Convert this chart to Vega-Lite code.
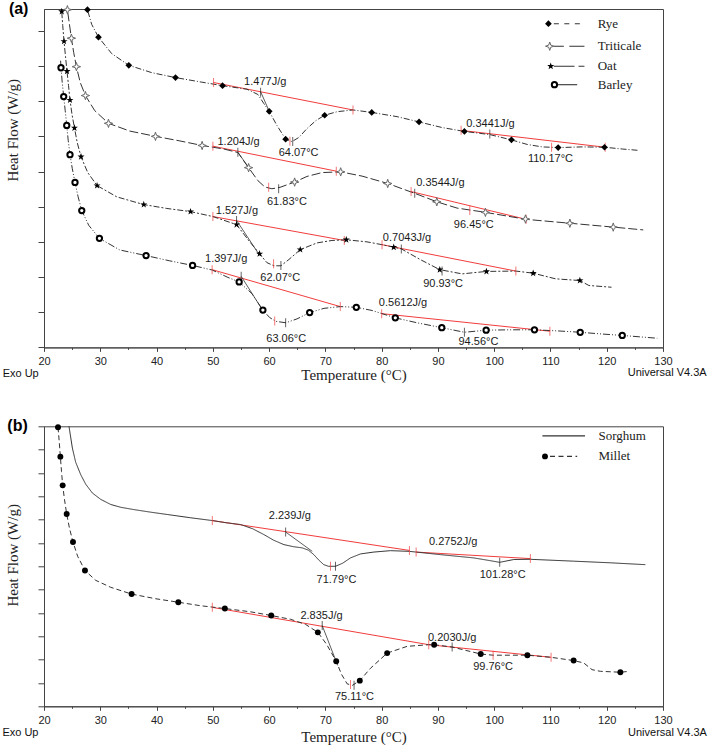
{
"$schema": "https://vega.github.io/schema/vega-lite/v6.json",
"padding": {"left": 1, "top": 0, "right": 0, "bottom": 0},
"bounds": "flush",
"spacing": 78.3,
"resolve": {"scale": {"strokeDash": "independent", "color": "independent"}},
"config": {
  "view": {"stroke": "#444", "strokeWidth": 1},
  "axis": {"domainColor": "#444", "tickColor": "#444", "labelFont": "Liberation Sans", "labelFontSize": 11, "labelColor": "#222", "titleFont": "Liberation Serif", "titleFontSize": 15, "titleFontWeight": "normal", "titleColor": "#222", "grid": false},
  "text": {"font": "Liberation Sans", "fontSize": 11, "color": "#1a1a1a"}
},
"datasets": {
  "curvesA": [
    {"sample":"Rye","temp":27.33,"hf":9.86},{"sample":"Rye","temp":27.72,"hf":9.60},{"sample":"Rye","temp":28.48,"hf":9.18},{"sample":"Rye","temp":29.68,"hf":8.82},{"sample":"Rye","temp":32.04,"hf":8.35},{"sample":"Rye","temp":35.07,"hf":8.02},{"sample":"Rye","temp":39.16,"hf":7.81},{"sample":"Rye","temp":43.37,"hf":7.67},{"sample":"Rye","temp":48.05,"hf":7.54},{"sample":"Rye","temp":51.73,"hf":7.44},{"sample":"Rye","temp":56.06,"hf":7.34},{"sample":"Rye","temp":58.01,"hf":7.19},{"sample":"Rye","temp":59.08,"hf":6.93},{"sample":"Rye","temp":60.02,"hf":6.71},{"sample":"Rye","temp":61.39,"hf":6.31},{"sample":"Rye","temp":62.94,"hf":5.92},{"sample":"Rye","temp":64.06,"hf":5.85},{"sample":"Rye","temp":65.30,"hf":5.97},{"sample":"Rye","temp":66.73,"hf":6.22},{"sample":"Rye","temp":68.33,"hf":6.45},{"sample":"Rye","temp":69.88,"hf":6.60},{"sample":"Rye","temp":72.07,"hf":6.70},{"sample":"Rye","temp":74.91,"hf":6.75},{"sample":"Rye","temp":78.24,"hf":6.68},{"sample":"Rye","temp":82.74,"hf":6.56},{"sample":"Rye","temp":86.65,"hf":6.41},{"sample":"Rye","temp":90.74,"hf":6.25},{"sample":"Rye","temp":94.71,"hf":6.14},{"sample":"Rye","temp":99.22,"hf":6.05},{"sample":"Rye","temp":103.07,"hf":5.90},{"sample":"Rye","temp":105.86,"hf":5.77},{"sample":"Rye","temp":108.53,"hf":5.70},{"sample":"Rye","temp":111.37,"hf":5.68},{"sample":"Rye","temp":115.64,"hf":5.70},{"sample":"Rye","temp":119.61,"hf":5.69},{"sample":"Rye","temp":122.76,"hf":5.64},{"sample":"Rye","temp":125.73,"hf":5.60},
    {"sample":"Triticale","temp":23.86,"hf":9.86},{"sample":"Triticale","temp":24.16,"hf":9.60},{"sample":"Triticale","temp":24.48,"hf":9.23},{"sample":"Triticale","temp":24.87,"hf":8.79},{"sample":"Triticale","temp":25.28,"hf":8.38},{"sample":"Triticale","temp":25.76,"hf":7.98},{"sample":"Triticale","temp":26.44,"hf":7.53},{"sample":"Triticale","temp":27.36,"hf":7.16},{"sample":"Triticale","temp":29.02,"hf":6.73},{"sample":"Triticale","temp":31.46,"hf":6.37},{"sample":"Triticale","temp":35.24,"hf":6.15},{"sample":"Triticale","temp":39.81,"hf":6.00},{"sample":"Triticale","temp":44.14,"hf":5.87},{"sample":"Triticale","temp":48.10,"hf":5.74},{"sample":"Triticale","temp":51.96,"hf":5.64},{"sample":"Triticale","temp":54.45,"hf":5.54},{"sample":"Triticale","temp":56.36,"hf":5.11},{"sample":"Triticale","temp":58.01,"hf":4.74},{"sample":"Triticale","temp":59.26,"hf":4.56},{"sample":"Triticale","temp":60.50,"hf":4.51},{"sample":"Triticale","temp":61.93,"hf":4.55},{"sample":"Triticale","temp":64.54,"hf":4.70},{"sample":"Triticale","temp":66.73,"hf":4.86},{"sample":"Triticale","temp":69.40,"hf":4.97},{"sample":"Triticale","temp":72.72,"hf":4.99},{"sample":"Triticale","temp":76.51,"hf":4.87},{"sample":"Triticale","temp":81.08,"hf":4.66},{"sample":"Triticale","temp":85.88,"hf":4.38},{"sample":"Triticale","temp":89.80,"hf":4.14},{"sample":"Triticale","temp":93.41,"hf":3.96},{"sample":"Triticale","temp":98.44,"hf":3.84},{"sample":"Triticale","temp":105.68,"hf":3.64},{"sample":"Triticale","temp":113.45,"hf":3.53},{"sample":"Triticale","temp":121.16,"hf":3.42},{"sample":"Triticale","temp":126.49,"hf":3.34},
    {"sample":"Oat","temp":22.61,"hf":9.86},{"sample":"Oat","temp":23.15,"hf":9.55},{"sample":"Oat","temp":23.33,"hf":9.15},{"sample":"Oat","temp":23.56,"hf":8.70},{"sample":"Oat","temp":23.82,"hf":8.27},{"sample":"Oat","temp":24.09,"hf":7.85},{"sample":"Oat","temp":24.36,"hf":7.44},{"sample":"Oat","temp":24.62,"hf":7.03},{"sample":"Oat","temp":24.98,"hf":6.62},{"sample":"Oat","temp":25.41,"hf":6.24},{"sample":"Oat","temp":25.91,"hf":5.82},{"sample":"Oat","temp":26.58,"hf":5.42},{"sample":"Oat","temp":27.77,"hf":4.97},{"sample":"Oat","temp":29.43,"hf":4.60},{"sample":"Oat","temp":32.93,"hf":4.28},{"sample":"Oat","temp":37.73,"hf":4.06},{"sample":"Oat","temp":41.83,"hf":3.95},{"sample":"Oat","temp":46.04,"hf":3.86},{"sample":"Oat","temp":50.01,"hf":3.72},{"sample":"Oat","temp":54.22,"hf":3.49},{"sample":"Oat","temp":56.23,"hf":3.07},{"sample":"Oat","temp":58.31,"hf":2.66},{"sample":"Oat","temp":59.61,"hf":2.41},{"sample":"Oat","temp":60.86,"hf":2.32},{"sample":"Oat","temp":62.10,"hf":2.32},{"sample":"Oat","temp":63.53,"hf":2.50},{"sample":"Oat","temp":65.54,"hf":2.78},{"sample":"Oat","temp":68.51,"hf":2.97},{"sample":"Oat","temp":71.17,"hf":3.04},{"sample":"Oat","temp":73.72,"hf":3.06},{"sample":"Oat","temp":77.40,"hf":3.00},{"sample":"Oat","temp":80.07,"hf":2.92},{"sample":"Oat","temp":82.15,"hf":2.85},{"sample":"Oat","temp":83.50,"hf":2.80},{"sample":"Oat","temp":86.83,"hf":2.50},{"sample":"Oat","temp":90.33,"hf":2.21},{"sample":"Oat","temp":94.30,"hf":2.09},{"sample":"Oat","temp":98.62,"hf":2.16},{"sample":"Oat","temp":103.85,"hf":2.17},{"sample":"Oat","temp":106.93,"hf":2.11},{"sample":"Oat","temp":110.89,"hf":1.95},{"sample":"Oat","temp":115.23,"hf":1.90},{"sample":"Oat","temp":116.83,"hf":1.76},{"sample":"Oat","temp":120.85,"hf":1.71},
    {"sample":"Barley","temp":22.95,"hf":8.15},{"sample":"Barley","temp":23.02,"hf":7.95},{"sample":"Barley","temp":23.24,"hf":7.53},{"sample":"Barley","temp":23.50,"hf":7.13},{"sample":"Barley","temp":23.77,"hf":6.73},{"sample":"Barley","temp":24.04,"hf":6.31},{"sample":"Barley","temp":24.30,"hf":5.89},{"sample":"Barley","temp":24.62,"hf":5.48},{"sample":"Barley","temp":25.02,"hf":5.09},{"sample":"Barley","temp":25.51,"hf":4.69},{"sample":"Barley","temp":26.05,"hf":4.29},{"sample":"Barley","temp":26.71,"hf":3.89},{"sample":"Barley","temp":27.95,"hf":3.47},{"sample":"Barley","temp":29.85,"hf":3.10},{"sample":"Barley","temp":33.46,"hf":2.77},{"sample":"Barley","temp":38.14,"hf":2.61},{"sample":"Barley","temp":42.36,"hf":2.46},{"sample":"Barley","temp":46.40,"hf":2.33},{"sample":"Barley","temp":49.88,"hf":2.20},{"sample":"Barley","temp":52.68,"hf":1.99},{"sample":"Barley","temp":54.68,"hf":1.86},{"sample":"Barley","temp":56.94,"hf":1.53},{"sample":"Barley","temp":58.90,"hf":1.06},{"sample":"Barley","temp":60.09,"hf":0.85},{"sample":"Barley","temp":61.21,"hf":0.74},{"sample":"Barley","temp":62.99,"hf":0.70},{"sample":"Barley","temp":64.95,"hf":0.81},{"sample":"Barley","temp":67.21,"hf":0.99},{"sample":"Barley","temp":69.75,"hf":1.11},{"sample":"Barley","temp":72.65,"hf":1.16},{"sample":"Barley","temp":75.50,"hf":1.14},{"sample":"Barley","temp":78.29,"hf":1.05},{"sample":"Barley","temp":82.43,"hf":0.84},{"sample":"Barley","temp":86.29,"hf":0.70},{"sample":"Barley","temp":90.69,"hf":0.56},{"sample":"Barley","temp":94.71,"hf":0.43},{"sample":"Barley","temp":98.57,"hf":0.49},{"sample":"Barley","temp":102.84,"hf":0.50},{"sample":"Barley","temp":107.16,"hf":0.50},{"sample":"Barley","temp":111.20,"hf":0.47},{"sample":"Barley","temp":115.29,"hf":0.43},{"sample":"Barley","temp":119.20,"hf":0.38},{"sample":"Barley","temp":122.76,"hf":0.34},{"sample":"Barley","temp":128.98,"hf":0.26}
  ],
  "markersA": [
    {"sample":"Rye","temp":27.72,"hf":9.60},{"sample":"Rye","temp":29.68,"hf":8.82},{"sample":"Rye","temp":35.07,"hf":8.02},{"sample":"Rye","temp":43.37,"hf":7.67},{"sample":"Rye","temp":51.73,"hf":7.44},{"sample":"Rye","temp":60.02,"hf":6.71},{"sample":"Rye","temp":62.94,"hf":5.92},{"sample":"Rye","temp":69.88,"hf":6.60},{"sample":"Rye","temp":78.24,"hf":6.68},{"sample":"Rye","temp":86.65,"hf":6.41},{"sample":"Rye","temp":94.71,"hf":6.14},{"sample":"Rye","temp":103.07,"hf":5.90},{"sample":"Rye","temp":111.37,"hf":5.68},{"sample":"Rye","temp":119.61,"hf":5.69},
    {"sample":"Triticale","temp":24.16,"hf":9.60},{"sample":"Triticale","temp":24.87,"hf":8.79},{"sample":"Triticale","temp":25.76,"hf":7.98},{"sample":"Triticale","temp":27.36,"hf":7.16},{"sample":"Triticale","temp":31.46,"hf":6.37},{"sample":"Triticale","temp":39.81,"hf":6.00},{"sample":"Triticale","temp":48.10,"hf":5.74},{"sample":"Triticale","temp":56.36,"hf":5.11},{"sample":"Triticale","temp":64.54,"hf":4.70},{"sample":"Triticale","temp":72.72,"hf":4.99},{"sample":"Triticale","temp":81.08,"hf":4.66},{"sample":"Triticale","temp":89.80,"hf":4.14},{"sample":"Triticale","temp":98.44,"hf":3.84},{"sample":"Triticale","temp":105.56,"hf":3.65},{"sample":"Triticale","temp":113.45,"hf":3.53},{"sample":"Triticale","temp":121.16,"hf":3.42},
    {"sample":"Oat","temp":23.15,"hf":9.55},{"sample":"Oat","temp":23.56,"hf":8.70},{"sample":"Oat","temp":24.09,"hf":7.85},{"sample":"Oat","temp":24.62,"hf":7.03},{"sample":"Oat","temp":25.41,"hf":6.24},{"sample":"Oat","temp":26.58,"hf":5.42},{"sample":"Oat","temp":29.43,"hf":4.60},{"sample":"Oat","temp":37.73,"hf":4.06},{"sample":"Oat","temp":46.04,"hf":3.86},{"sample":"Oat","temp":54.22,"hf":3.49},{"sample":"Oat","temp":58.31,"hf":2.66},{"sample":"Oat","temp":65.54,"hf":2.78},{"sample":"Oat","temp":73.72,"hf":3.06},{"sample":"Oat","temp":82.15,"hf":2.85},{"sample":"Oat","temp":90.33,"hf":2.21},{"sample":"Oat","temp":98.62,"hf":2.16},{"sample":"Oat","temp":106.93,"hf":2.11},{"sample":"Oat","temp":115.23,"hf":1.90},
    {"sample":"Barley","temp":23.02,"hf":7.95},{"sample":"Barley","temp":23.50,"hf":7.13},{"sample":"Barley","temp":24.04,"hf":6.31},{"sample":"Barley","temp":24.62,"hf":5.48},{"sample":"Barley","temp":25.51,"hf":4.69},{"sample":"Barley","temp":26.71,"hf":3.89},{"sample":"Barley","temp":29.85,"hf":3.10},{"sample":"Barley","temp":38.14,"hf":2.61},{"sample":"Barley","temp":46.40,"hf":2.33},{"sample":"Barley","temp":54.68,"hf":1.86},{"sample":"Barley","temp":58.90,"hf":1.06},{"sample":"Barley","temp":67.21,"hf":0.99},{"sample":"Barley","temp":75.50,"hf":1.14},{"sample":"Barley","temp":82.43,"hf":0.84},{"sample":"Barley","temp":90.69,"hf":0.56},{"sample":"Barley","temp":98.57,"hf":0.49},{"sample":"Barley","temp":107.16,"hf":0.50},{"sample":"Barley","temp":115.29,"hf":0.43},{"sample":"Barley","temp":122.76,"hf":0.34}
  ],
  "keyMarksA": [
    {"sample":"Rye","temp":109.64,"hf":9.202},{"sample":"Triticale","temp":109.87,"hf":8.563},{"sample":"Oat","temp":110.05,"hf":7.994},{"sample":"Barley","temp":110.71,"hf":7.468}
  ],
  "keyLinesA": [
    {"sample":"Rye","temp":110.6,"temp2":115.9,"hf":9.202},{"sample":"Triticale","temp":110.6,"temp2":116.04,"hf":8.563},{"sample":"Oat","temp":110.6,"temp2":116.04,"hf":7.994},{"sample":"Barley","temp":111.2,"temp2":116.04,"hf":7.468}
  ],
  "keyLabelsA": [
    {"sample":"Rye","temp":118.4,"hf":9.202},{"sample":"Triticale","temp":118.4,"hf":8.563},{"sample":"Oat","temp":118.4,"hf":7.994},{"sample":"Barley","temp":118.4,"hf":7.468}
  ],
  "baseA": [
    {"sample":"Rye","temp":50.13,"hf":7.53,"temp2":74.91,"hf2":6.75},{"sample":"Rye","temp":94.12,"hf":6.17,"temp2":119.73,"hf2":5.69},
    {"sample":"Triticale","temp":50.01,"hf":5.72,"temp2":71.94,"hf2":5.01},{"sample":"Triticale","temp":85.23,"hf":4.43,"temp2":105.68,"hf2":3.64},
    {"sample":"Oat","temp":50.01,"hf":3.72,"temp2":73.36,"hf2":3.04},{"sample":"Oat","temp":80.07,"hf":2.92,"temp2":103.85,"hf2":2.17},
    {"sample":"Barley","temp":49.88,"hf":2.21,"temp2":72.65,"hf2":1.16},{"sample":"Barley","temp":80.01,"hf":0.96,"temp2":109.90,"hf2":0.46}
  ],
  "tanA": [
    {"sample":"Rye","temp":58.49,"hf":7.27,"temp2":60.2,"hf2":6.65},
    {"sample":"Triticale","temp":54.45,"hf":5.55,"temp2":56.5,"hf2":5.08},
    {"sample":"Oat","temp":54.22,"hf":3.61,"temp2":58.3,"hf2":2.62},
    {"sample":"Barley","temp":55.04,"hf":2.02,"temp2":59.0,"hf2":1.02}
  ],
  "ticksA": [
    {"kind":"limit","temp":50.13,"hf":7.53},{"kind":"limit","temp":74.91,"hf":6.75},{"kind":"limit","temp":94.12,"hf":6.17},{"kind":"limit","temp":119.73,"hf":5.69},{"kind":"limit","temp":63.7,"hf":5.86},{"kind":"limit","temp":110.2,"hf":5.69},
    {"kind":"limit","temp":50.01,"hf":5.72},{"kind":"limit","temp":71.94,"hf":5.01},{"kind":"limit","temp":85.23,"hf":4.43},{"kind":"limit","temp":105.68,"hf":3.64},{"kind":"limit","temp":59.92,"hf":4.55},{"kind":"limit","temp":95.67,"hf":3.89},
    {"kind":"limit","temp":50.01,"hf":3.72},{"kind":"limit","temp":73.36,"hf":3.04},{"kind":"limit","temp":80.07,"hf":2.92},{"kind":"limit","temp":103.85,"hf":2.17},{"kind":"limit","temp":60.80,"hf":2.38},
    {"kind":"limit","temp":49.88,"hf":2.21},{"kind":"limit","temp":72.65,"hf":1.16},{"kind":"limit","temp":80.01,"hf":0.96},{"kind":"limit","temp":109.90,"hf":0.46},{"kind":"limit","temp":61.0,"hf":0.75},
    {"kind":"event","temp":58.49,"hf":7.25},{"kind":"event","temp":64.2,"hf":5.85},{"kind":"event","temp":99.22,"hf":6.07},
    {"kind":"event","temp":54.45,"hf":5.55},{"kind":"event","temp":61.70,"hf":4.51},{"kind":"event","temp":85.88,"hf":4.38},
    {"kind":"event","temp":54.22,"hf":3.61},{"kind":"event","temp":62.10,"hf":2.33},{"kind":"event","temp":83.50,"hf":2.80},{"kind":"event","temp":90.74,"hf":2.17},
    {"kind":"event","temp":55.04,"hf":2.02},{"kind":"event","temp":62.94,"hf":0.70},{"kind":"event","temp":94.71,"hf":0.43}
  ],
  "labA": [
    {"label":"1.477J/g","temp":59.31,"hf":7.54},{"label":"64.07°C","temp":65.25,"hf":5.52},{"label":"0.3441J/g","temp":99.33,"hf":6.36},{"label":"110.17°C","temp":110.0,"hf":5.36},
    {"label":"1.204J/g","temp":54.58,"hf":5.83},{"label":"61.83°C","temp":63.17,"hf":4.13},{"label":"0.3544J/g","temp":90.44,"hf":4.67},{"label":"96.45°C","temp":96.38,"hf":3.49},
    {"label":"1.527J/g","temp":54.28,"hf":3.87},{"label":"62.07°C","temp":61.98,"hf":1.98},{"label":"0.7043J/g","temp":84.51,"hf":3.11},{"label":"90.93°C","temp":90.92,"hf":1.81},
    {"label":"1.397J/g","temp":52.37,"hf":2.50},{"label":"63.06°C","temp":63.05,"hf":0.25},{"label":"0.5612J/g","temp":83.80,"hf":1.27},{"label":"94.56°C","temp":97.2,"hf":0.15}
  ],
  "tagA": [{"note":"(a)","temp":15.5,"hf":9.62}],
  "exoA": [{"note":"Exo Up","temp":12.65,"hf":-0.77}],
  "verA": [{"note":"Universal V4.3A","temp":137.75,"hf":-0.74}],
  "curvesB": [
    {"sample":"Sorghum","temp":24.24,"hf":12.43},{"sample":"Sorghum","temp":24.44,"hf":12.00},{"sample":"Sorghum","temp":25.04,"hf":11.07},{"sample":"Sorghum","temp":25.63,"hf":10.46},{"sample":"Sorghum","temp":26.52,"hf":9.93},{"sample":"Sorghum","temp":27.41,"hf":9.52},{"sample":"Sorghum","temp":28.60,"hf":9.14},{"sample":"Sorghum","temp":30.07,"hf":8.87},{"sample":"Sorghum","temp":31.85,"hf":8.65},{"sample":"Sorghum","temp":33.62,"hf":8.53},{"sample":"Sorghum","temp":35.98,"hf":8.43},{"sample":"Sorghum","temp":38.95,"hf":8.32},{"sample":"Sorghum","temp":41.91,"hf":8.22},{"sample":"Sorghum","temp":46.05,"hf":8.08},{"sample":"Sorghum","temp":49.91,"hf":7.96},{"sample":"Sorghum","temp":52.27,"hf":7.87},{"sample":"Sorghum","temp":54.93,"hf":7.79},{"sample":"Sorghum","temp":57.07,"hf":7.61},{"sample":"Sorghum","temp":59.07,"hf":7.36},{"sample":"Sorghum","temp":60.79,"hf":7.12},{"sample":"Sorghum","temp":62.62,"hf":6.93},{"sample":"Sorghum","temp":64.34,"hf":6.84},{"sample":"Sorghum","temp":65.89,"hf":6.79},{"sample":"Sorghum","temp":67.00,"hf":6.69},{"sample":"Sorghum","temp":67.95,"hf":6.50},{"sample":"Sorghum","temp":68.78,"hf":6.28},{"sample":"Sorghum","temp":69.72,"hf":6.07},{"sample":"Sorghum","temp":70.56,"hf":6.00},{"sample":"Sorghum","temp":71.80,"hf":6.00},{"sample":"Sorghum","temp":73.05,"hf":6.13},{"sample":"Sorghum","temp":74.47,"hf":6.36},{"sample":"Sorghum","temp":76.24,"hf":6.53},{"sample":"Sorghum","temp":78.61,"hf":6.61},{"sample":"Sorghum","temp":81.57,"hf":6.67},{"sample":"Sorghum","temp":84.94,"hf":6.64},{"sample":"Sorghum","temp":86.13,"hf":6.61},{"sample":"Sorghum","temp":90.45,"hf":6.50},{"sample":"Sorghum","temp":96.36,"hf":6.36},{"sample":"Sorghum","temp":99.33,"hf":6.24},{"sample":"Sorghum","temp":100.98,"hf":6.17},{"sample":"Sorghum","temp":103.47,"hf":6.29},{"sample":"Sorghum","temp":106.43,"hf":6.30},{"sample":"Sorghum","temp":114.12,"hf":6.22},{"sample":"Sorghum","temp":120.64,"hf":6.15},{"sample":"Sorghum","temp":126.86,"hf":6.07},
    {"sample":"Millet","temp":22.45,"hf":12.30},{"sample":"Millet","temp":22.49,"hf":11.96},{"sample":"Millet","temp":22.70,"hf":11.36},{"sample":"Millet","temp":22.91,"hf":10.70},{"sample":"Millet","temp":23.11,"hf":10.07},{"sample":"Millet","temp":23.32,"hf":9.47},{"sample":"Millet","temp":23.64,"hf":8.87},{"sample":"Millet","temp":24.03,"hf":8.24},{"sample":"Millet","temp":24.53,"hf":7.63},{"sample":"Millet","temp":25.15,"hf":7.04},{"sample":"Millet","temp":25.98,"hf":6.43},{"sample":"Millet","temp":27.28,"hf":5.82},{"sample":"Millet","temp":29.18,"hf":5.40},{"sample":"Millet","temp":31.85,"hf":5.10},{"sample":"Millet","temp":35.57,"hf":4.81},{"sample":"Millet","temp":39.84,"hf":4.61},{"sample":"Millet","temp":43.87,"hf":4.46},{"sample":"Millet","temp":47.83,"hf":4.31},{"sample":"Millet","temp":52.14,"hf":4.19},{"sample":"Millet","temp":56.71,"hf":4.05},{"sample":"Millet","temp":60.38,"hf":3.89},{"sample":"Millet","temp":63.81,"hf":3.73},{"sample":"Millet","temp":66.48,"hf":3.51},{"sample":"Millet","temp":68.66,"hf":3.17},{"sample":"Millet","temp":70.21,"hf":2.66},{"sample":"Millet","temp":71.93,"hf":1.93},{"sample":"Millet","temp":72.87,"hf":1.37},{"sample":"Millet","temp":73.88,"hf":0.96},{"sample":"Millet","temp":74.82,"hf":0.90},{"sample":"Millet","temp":76.12,"hf":1.10},{"sample":"Millet","temp":78.02,"hf":1.63},{"sample":"Millet","temp":80.98,"hf":2.28},{"sample":"Millet","temp":84.54,"hf":2.57},{"sample":"Millet","temp":88.37,"hf":2.64},{"sample":"Millet","temp":89.33,"hf":2.64},{"sample":"Millet","temp":92.53,"hf":2.54},{"sample":"Millet","temp":97.61,"hf":2.24},{"sample":"Millet","temp":99.81,"hf":2.19},{"sample":"Millet","temp":105.90,"hf":2.19},{"sample":"Millet","temp":110.11,"hf":2.10},{"sample":"Millet","temp":114.12,"hf":1.96},{"sample":"Millet","temp":115.90,"hf":1.86},{"sample":"Millet","temp":117.39,"hf":1.57},{"sample":"Millet","temp":118.86,"hf":1.50},{"sample":"Millet","temp":122.42,"hf":1.46},{"sample":"Millet","temp":124.07,"hf":1.50}
  ],
  "markersB": [
    {"sample":"Millet","temp":22.49,"hf":11.96},{"sample":"Millet","temp":22.91,"hf":10.70},{"sample":"Millet","temp":23.32,"hf":9.47},{"sample":"Millet","temp":24.03,"hf":8.24},{"sample":"Millet","temp":25.15,"hf":7.04},{"sample":"Millet","temp":27.28,"hf":5.82},{"sample":"Millet","temp":35.57,"hf":4.81},{"sample":"Millet","temp":43.87,"hf":4.46},{"sample":"Millet","temp":52.14,"hf":4.19},{"sample":"Millet","temp":60.38,"hf":3.89},{"sample":"Millet","temp":68.66,"hf":3.17},{"sample":"Millet","temp":71.93,"hf":1.93},{"sample":"Millet","temp":76.12,"hf":1.10},{"sample":"Millet","temp":80.98,"hf":2.28},{"sample":"Millet","temp":89.33,"hf":2.64},{"sample":"Millet","temp":97.61,"hf":2.24},{"sample":"Millet","temp":105.90,"hf":2.19},{"sample":"Millet","temp":114.12,"hf":1.96},{"sample":"Millet","temp":122.42,"hf":1.46}
  ],
  "keyMarksB": [{"sample":"Millet","temp":109.03,"hf":10.71}],
  "keyLinesB": [
    {"sample":"Sorghum","temp":108.57,"temp2":116.14,"hf":11.59},{"sample":"Millet","temp":109.92,"temp2":114.75,"hf":10.71}
  ],
  "keyLabelsB": [
    {"sample":"Sorghum","temp":118.52,"hf":11.59},{"sample":"Millet","temp":118.52,"hf":10.71}
  ],
  "baseB": [
    {"sample":"Sorghum","temp":49.91,"hf":7.96,"temp2":84.94,"hf2":6.68},{"sample":"Sorghum","temp":86.13,"hf":6.61,"temp2":106.43,"hf2":6.33},
    {"sample":"Millet","temp":49.91,"hf":4.24,"temp2":88.37,"hf2":2.64},{"sample":"Millet","temp":88.37,"hf":2.64,"temp2":110.11,"hf2":2.10}
  ],
  "tanB": [
    {"sample":"Sorghum","temp":62.94,"hf":7.47,"temp2":67.67,"hf2":6.64},
    {"sample":"Millet","temp":69.44,"hf":3.46,"temp2":72.2,"hf2":1.75}
  ],
  "ticksB": [
    {"kind":"limit","temp":49.91,"hf":7.96},{"kind":"limit","temp":84.94,"hf":6.68},{"kind":"limit","temp":86.13,"hf":6.61},{"kind":"limit","temp":106.43,"hf":6.33},{"kind":"limit","temp":70.91,"hf":6.00},
    {"kind":"limit","temp":49.91,"hf":4.24},{"kind":"limit","temp":88.37,"hf":2.64},{"kind":"limit","temp":110.11,"hf":2.10},{"kind":"limit","temp":74.47,"hf":0.93},{"kind":"limit","temp":99.81,"hf":2.19},
    {"kind":"event","temp":62.94,"hf":7.47},{"kind":"event","temp":71.80,"hf":6.00},{"kind":"event","temp":100.98,"hf":6.17},
    {"kind":"event","temp":69.44,"hf":3.46},{"kind":"event","temp":75.1,"hf":0.90},{"kind":"event","temp":92.53,"hf":2.54}
  ],
  "labB": [
    {"label":"2.239J/g","temp":63.69,"hf":8.14},{"label":"71.79°C","temp":71.98,"hf":5.40},{"label":"0.2752J/g","temp":92.71,"hf":7.04},{"label":"101.28°C","temp":101.51,"hf":5.62},
    {"label":"2.835J/g","temp":69.32,"hf":3.86},{"label":"75.11°C","temp":75.18,"hf":0.39},{"label":"0.2030J/g","temp":92.53,"hf":2.93},{"label":"99.76°C","temp":99.81,"hf":1.68}
  ],
  "tagB": [{"note":"(b)","temp":15.3,"hf":12}],
  "exoB": [{"note":"Exo Up","temp":12.61,"hf":-1.14}],
  "verB": [{"note":"Universal V4.3A","temp":137.8,"hf":-1.14}]
},
"vconcat": [
  {
    "width": 619, "height": 338.4,
    "resolve": {"scale": {"strokeDash": "independent"}},
    "encoding": {
      "x": {"field": "temp", "type": "quantitative", "scale": {"domain": [20, 130], "nice": false, "zero": false},
        "axis": {"title": "Temperature (°C)", "values": [20,25,30,35,40,45,50,55,60,65,70,75,80,85,90,95,100,105,110,115,120,125,130], "labelExpr": "datum.value % 10 === 0 ? datum.label : ''", "tickSize": {"condition": {"test": "datum.value % 10 === 0", "value": 4}, "value": 2}, "labelPadding": 4, "labelFlush": false, "labelOverlap": false, "titleY": 31.8, "titleBaseline": "alphabetic"}},
      "y": {"field": "hf", "type": "quantitative", "scale": {"domain": [0, 9.62], "nice": false, "zero": false},
        "axis": {"title": "Heat Flow (W/g)", "values": [0,1,2,3,4,5,6,7,8,9], "labels": false, "tickSize": 6, "titleX": -31.3, "titleY": 120.7, "titleBaseline": "middle", "titleAlign": "center"}}
    },
    "layer": [
      {"data": {"name": "baseA"}, "mark": {"type": "rule", "color": "#f23c3c", "strokeWidth": 1}, "encoding": {"x2": {"field": "temp2"}, "y2": {"field": "hf2"}}},
      {"data": {"name": "curvesA"}, "mark": {"type": "line", "clip": true, "color": "#333", "strokeWidth": 1},
        "encoding": {"strokeDash": {"field": "sample", "type": "nominal", "scale": {"domain": ["Rye","Triticale","Oat","Barley"], "range": [[6,2,1,2],[9,3],[6,2,2,2],[7,2,1,2,1,2]]}, "legend": null}}},
      {"data": {"name": "tanA"}, "mark": {"type": "rule", "color": "#333", "strokeWidth": 0.8}, "encoding": {"x2": {"field": "temp2"}, "y2": {"field": "hf2"}}},
      {"data": {"name": "ticksA"}, "mark": {"type": "tick", "orient": "vertical", "size": 9, "thickness": 1},
        "encoding": {"color": {"field": "kind", "type": "nominal", "scale": {"domain": ["limit","event"], "range": ["#f23c3c","#222"]}, "legend": null}}},
      {"data": {"name": "markersA"}, "transform": [{"filter": "datum.sample === 'Rye'"}], "mark": {"type": "point", "shape": "diamond", "filled": true, "color": "#000", "size": 45, "opacity": 1}},
      {"data": {"name": "markersA"}, "transform": [{"filter": "datum.sample === 'Triticale'"}], "mark": {"type": "point", "shape": "M0,-1L0.25,-0.25L1,0L0.25,0.25L0,1L-0.25,0.25L-1,0L-0.25,-0.25Z", "fill": "#fff", "stroke": "#666", "strokeWidth": 1, "size": 70, "opacity": 1}},
      {"data": {"name": "markersA"}, "transform": [{"filter": "datum.sample === 'Oat'"}], "mark": {"type": "point", "shape": "M0,-1L0.235,-0.324L0.951,-0.309L0.38,0.124L0.588,0.809L0,0.4L-0.588,0.809L-0.38,0.124L-0.951,-0.309L-0.235,-0.324Z", "filled": true, "color": "#000", "size": 55, "opacity": 1}},
      {"data": {"name": "markersA"}, "transform": [{"filter": "datum.sample === 'Barley'"}], "mark": {"type": "point", "shape": "circle", "fill": "#fff", "stroke": "#000", "strokeWidth": 2, "size": 28, "opacity": 1}},
      {"data": {"name": "keyLinesA"}, "mark": {"type": "rule", "color": "#333", "strokeWidth": 1.1},
        "encoding": {"x2": {"field": "temp2"}, "strokeDash": {"field": "sample", "type": "nominal", "scale": {"domain": ["Rye","Triticale","Oat","Barley"], "range": [[5,5.5],[10,5.5,20,1],[20.7,4,6,10],[20,7.7,1.5,10]]}, "legend": null}}},
      {"data": {"name": "keyMarksA"}, "transform": [{"filter": "datum.sample === 'Rye'"}], "mark": {"type": "point", "shape": "diamond", "filled": true, "color": "#000", "size": 45, "opacity": 1}},
      {"data": {"name": "keyMarksA"}, "transform": [{"filter": "datum.sample === 'Triticale'"}], "mark": {"type": "point", "shape": "M0,-1L0.25,-0.25L1,0L0.25,0.25L0,1L-0.25,0.25L-1,0L-0.25,-0.25Z", "fill": "#fff", "stroke": "#666", "strokeWidth": 1, "size": 70, "opacity": 1}},
      {"data": {"name": "keyMarksA"}, "transform": [{"filter": "datum.sample === 'Oat'"}], "mark": {"type": "point", "shape": "M0,-1L0.235,-0.324L0.951,-0.309L0.38,0.124L0.588,0.809L0,0.4L-0.588,0.809L-0.38,0.124L-0.951,-0.309L-0.235,-0.324Z", "filled": true, "color": "#000", "size": 55, "opacity": 1}},
      {"data": {"name": "keyMarksA"}, "transform": [{"filter": "datum.sample === 'Barley'"}], "mark": {"type": "point", "shape": "circle", "fill": "#fff", "stroke": "#000", "strokeWidth": 2, "size": 28, "opacity": 1}},
      {"data": {"name": "keyLabelsA"}, "mark": {"type": "text", "font": "Liberation Serif", "fontSize": 13, "align": "left", "baseline": "middle", "color": "#222"}, "encoding": {"text": {"field": "sample"}}},
      {"data": {"name": "labA"}, "mark": {"type": "text", "align": "center", "baseline": "middle"}, "encoding": {"text": {"field": "label"}}},
      {"data": {"name": "tagA"}, "mark": {"type": "text", "font": "Liberation Sans", "fontSize": 16, "fontWeight": "bold", "align": "center", "baseline": "middle", "color": "#000"}, "encoding": {"text": {"field": "note"}}},
      {"data": {"name": "exoA"}, "mark": {"type": "text", "align": "left", "baseline": "middle", "color": "#111"}, "encoding": {"text": {"field": "note"}}},
      {"data": {"name": "verA"}, "mark": {"type": "text", "align": "right", "baseline": "middle", "color": "#111"}, "encoding": {"text": {"field": "note"}}}
    ]
  },
  {
    "width": 619, "height": 280,
    "resolve": {"scale": {"strokeDash": "independent"}},
    "encoding": {
      "x": {"field": "temp", "type": "quantitative", "scale": {"domain": [20, 130], "nice": false, "zero": false},
        "axis": {"title": "Temperature (°C)", "values": [20,25,30,35,40,45,50,55,60,65,70,75,80,85,90,95,100,105,110,115,120,125,130], "labelExpr": "datum.value % 10 === 0 ? datum.label : ''", "tickSize": {"condition": {"test": "datum.value % 10 === 0", "value": 4}, "value": 2}, "labelPadding": 4, "labelFlush": false, "labelOverlap": false, "titleY": 34.8, "titleBaseline": "alphabetic"}},
      "y": {"field": "hf", "type": "quantitative", "scale": {"domain": [0, 12], "nice": false, "zero": false},
        "axis": {"title": "Heat Flow (W/g)", "values": [0,1,2,3,4,5,6,7,8,9,10,11,12], "labels": false, "tickSize": 6, "titleX": -31.3, "titleY": 128.5, "titleBaseline": "middle", "titleAlign": "center"}}
    },
    "layer": [
      {"data": {"name": "baseB"}, "mark": {"type": "rule", "color": "#f23c3c", "strokeWidth": 1}, "encoding": {"x2": {"field": "temp2"}, "y2": {"field": "hf2"}}},
      {"data": {"name": "curvesB"}, "mark": {"type": "line", "clip": true, "color": "#333", "strokeWidth": 1},
        "encoding": {"strokeDash": {"field": "sample", "type": "nominal", "scale": {"domain": ["Sorghum","Millet"], "range": [[1,0],[5,3]]}, "legend": null}}},
      {"data": {"name": "tanB"}, "mark": {"type": "rule", "color": "#333", "strokeWidth": 0.8}, "encoding": {"x2": {"field": "temp2"}, "y2": {"field": "hf2"}}},
      {"data": {"name": "ticksB"}, "mark": {"type": "tick", "orient": "vertical", "size": 9, "thickness": 1},
        "encoding": {"color": {"field": "kind", "type": "nominal", "scale": {"domain": ["limit","event"], "range": ["#f23c3c","#222"]}, "legend": null}}},
      {"data": {"name": "markersB"}, "mark": {"type": "point", "shape": "circle", "filled": true, "color": "#000", "size": 35, "opacity": 1}},
      {"data": {"name": "keyLinesB"}, "mark": {"type": "rule", "color": "#333", "strokeWidth": 1.1},
        "encoding": {"x2": {"field": "temp2"}, "strokeDash": {"field": "sample", "type": "nominal", "scale": {"domain": ["Sorghum","Millet"], "range": [[1,0],[5,3.5]]}, "legend": null}}},
      {"data": {"name": "keyMarksB"}, "mark": {"type": "point", "shape": "circle", "filled": true, "color": "#000", "size": 35, "opacity": 1}},
      {"data": {"name": "keyLabelsB"}, "mark": {"type": "text", "font": "Liberation Serif", "fontSize": 13, "align": "left", "baseline": "middle", "color": "#222"}, "encoding": {"text": {"field": "sample"}}},
      {"data": {"name": "labB"}, "mark": {"type": "text", "align": "center", "baseline": "middle"}, "encoding": {"text": {"field": "label"}}},
      {"data": {"name": "tagB"}, "mark": {"type": "text", "font": "Liberation Sans", "fontSize": 16, "fontWeight": "bold", "align": "center", "baseline": "middle", "color": "#000"}, "encoding": {"text": {"field": "note"}}},
      {"data": {"name": "exoB"}, "mark": {"type": "text", "align": "left", "baseline": "middle", "color": "#111"}, "encoding": {"text": {"field": "note"}}},
      {"data": {"name": "verB"}, "mark": {"type": "text", "align": "right", "baseline": "middle", "color": "#111"}, "encoding": {"text": {"field": "note"}}}
    ]
  }
]
}
